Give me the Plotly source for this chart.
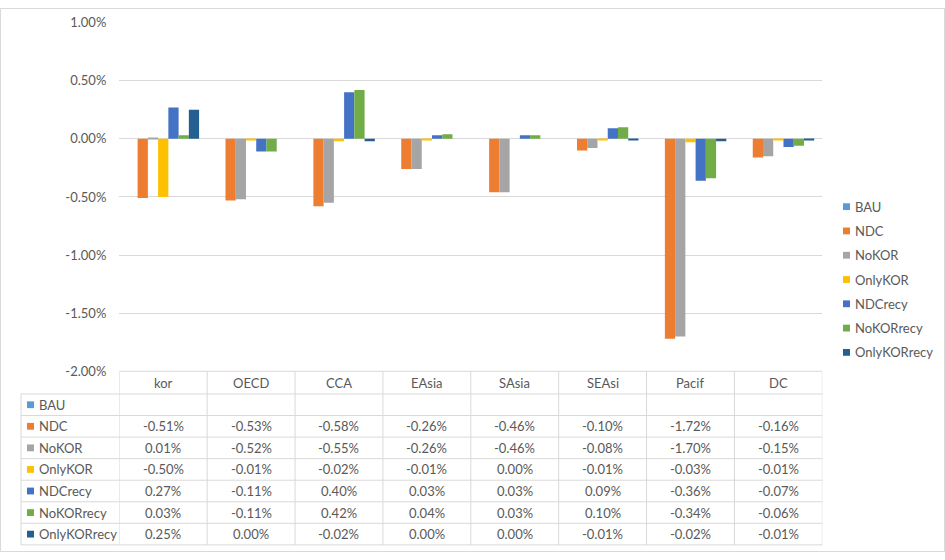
import plotly.graph_objects as go

# ---------------- data ----------------
categories = ["kor", "OECD", "CCA", "EAsia", "SAsia", "SEAsi", "Pacif", "DC"]
series_names = ["BAU", "NDC", "NoKOR", "OnlyKOR", "NDCrecy", "NoKORrecy", "OnlyKORrecy"]

BAU = [None, None, None, None, None, None, None, None]
NDC = [-0.51, -0.53, -0.58, -0.26, -0.46, -0.10, -1.72, -0.16]
NoKOR = [0.01, -0.52, -0.55, -0.26, -0.46, -0.08, -1.70, -0.15]
OnlyKOR = [-0.50, -0.01, -0.02, -0.01, 0.00, -0.01, -0.03, -0.01]
NDCrecy = [0.27, -0.11, 0.40, 0.03, 0.03, 0.09, -0.36, -0.07]
NoKORrecy = [0.03, -0.11, 0.42, 0.04, 0.03, 0.10, -0.34, -0.06]
OnlyKORrecy = [0.25, 0.00, -0.02, 0.00, 0.00, -0.01, -0.02, -0.01]

y_ticks = [1.0, 0.5, 0.0, -0.5, -1.0, -1.5, -2.0]

series_values = [BAU, NDC, NoKOR, OnlyKOR, NDCrecy, NoKORrecy, OnlyKORrecy]
colors = ["#5B9BD5", "#ED7D31", "#A5A5A5", "#FFC000", "#4472C4", "#70AD47", "#255E91"]

# ---------------- layout helpers (pixel -> paper) ----------------
W, H = 945, 560
def px(x):
    return x / W
def py(y):
    return 1 - y / H

FONT = "Lato, 'Open Sans', sans-serif"
TXT = "#595959"
GRID = "#D9D9D9"

fig = go.Figure()
for name, vals, col in zip(series_names, series_values, colors):
    fig.add_trace(go.Bar(name=name, x=list(range(len(categories))), y=vals,
                         marker=dict(color=col, line=dict(width=0)),
                         showlegend=False))

shapes = []
annotations = []

# table geometry
top_plot = 374.0
header_bot = 397.3
row_h = 22.2
n_rows = len(series_names)
row_lines = [header_bot + i * row_h for i in range(n_rows + 1)]
table_left = 21

# horizontal lines
shapes.append(dict(type="line", xref="x", yref="paper", x0=-0.5, x1=len(categories) - 0.5,
                   y0=py(top_plot), y1=py(top_plot), line=dict(color=GRID, width=1)))
for yl in row_lines:
    shapes.append(dict(type="line", xref="paper", yref="paper", x0=px(table_left), x1=px(822.3),
                       y0=py(yl), y1=py(yl), line=dict(color=GRID, width=1)))
# vertical lines
for k in range(len(categories) + 1):
    shapes.append(dict(type="line", xref="x", yref="paper", x0=k - 0.5, x1=k - 0.5,
                       y0=py(top_plot), y1=py(row_lines[-1]), line=dict(color=GRID, width=1)))
shapes.append(dict(type="line", xref="paper", yref="paper", x0=px(table_left), x1=px(table_left),
                   y0=py(header_bot), y1=py(row_lines[-1]), line=dict(color=GRID, width=1)))

# header text
for i, c in enumerate(categories):
    annotations.append(dict(x=i, y=py((top_plot + header_bot) / 2), xref="x", yref="paper",
                            text=c, showarrow=False, xanchor="center", yanchor="middle",
                            font=dict(family=FONT, size=13, color=TXT)))

# rows
for r, (name, vals, col) in enumerate(zip(series_names, series_values, colors)):
    yc = (row_lines[r] + row_lines[r + 1]) / 2
    shapes.append(dict(type="rect", xref="paper", yref="paper", x0=px(27), x1=px(34),
                       y0=py(yc + 3.5), y1=py(yc - 3.5), fillcolor=col, line=dict(width=0)))
    annotations.append(dict(x=px(37), y=py(yc), xref="paper", yref="paper", text=name,
                            showarrow=False, xanchor="left", yanchor="middle",
                            font=dict(family=FONT, size=13, color=TXT)))
    for i, v in enumerate(vals):
        if v is None:
            continue
        annotations.append(dict(x=i, y=py(yc), xref="x", yref="paper", text=f"{v:.2f}%",
                                showarrow=False, xanchor="center", yanchor="middle",
                                font=dict(family=FONT, size=13, color=TXT)))

# right legend (manual)
leg_y0 = 204.5
leg_step = 25.0
for r, (name, col) in enumerate(zip(series_names, colors)):
    yc = leg_y0 + r * leg_step
    shapes.append(dict(type="rect", xref="paper", yref="paper", x0=px(843), x1=px(850),
                       y0=py(yc + 3.5), y1=py(yc - 3.5), fillcolor=col, line=dict(width=0)))
    annotations.append(dict(x=px(853), y=py(yc), xref="paper", yref="paper", text=name,
                            showarrow=False, xanchor="left", yanchor="middle",
                            font=dict(family=FONT, size=13, color=TXT)))

# outer border
shapes.append(dict(type="rect", xref="paper", yref="paper", x0=px(0.5), x1=px(944.5),
                   y0=py(559.5), y1=py(0.5), line=dict(color=GRID, width=1)))

fig.update_layout(
    width=W, height=H,
    margin=dict(l=0, r=0, t=0, b=0),
    paper_bgcolor="white", plot_bgcolor="white",
    barmode="group", bargap=0.184, bargroupgap=0,
    xaxis=dict(domain=[px(119.3), px(822.3)], range=[-0.5, len(categories) - 0.5],
               showticklabels=False, showgrid=False, zeroline=False, showline=False,
               fixedrange=True),
    yaxis=dict(domain=[py(374), py(15)], range=[-2.0, 1.0], tickvals=y_ticks,
               ticktext=[f"{t:.2f}%" for t in y_ticks],
               showgrid=True, gridcolor=GRID, gridwidth=1, zeroline=False, showline=False,
               ticks="", ticklabelstandoff=12,
               tickfont=dict(family=FONT, size=13, color=TXT)),
    shapes=shapes, annotations=annotations,
    font=dict(family=FONT, size=13, color=TXT),
    showlegend=False,
)

fig.write_html(
    "out.html",
    config={"displayModeBar": False},
    post_script="document.body.style.margin='0';document.body.style.padding='0';"
                "document.documentElement.style.overflow='hidden';",
)
